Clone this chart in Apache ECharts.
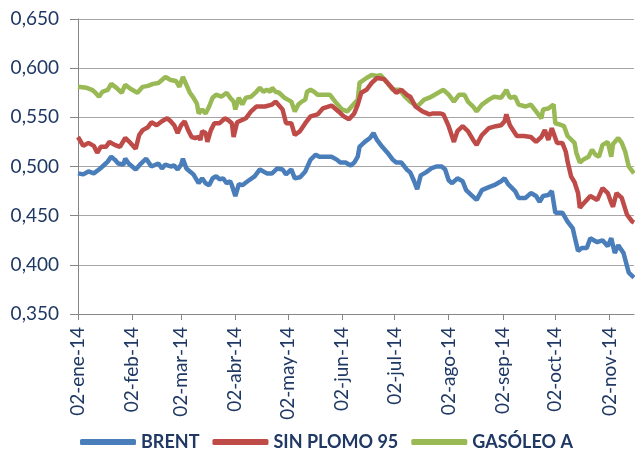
<!DOCTYPE html>
<html>
<head>
<meta charset="utf-8">
<script src="https://cdn.jsdelivr.net/npm/echarts@6/dist/echarts.min.js"></script>
<style>
html,body{margin:0;padding:0;background:#fff;}
#chart{width:635px;height:449px;}
</style>
</head>
<body>
<div id="chart"></div>
<script>
// Day offsets are counted from 02-ene-2014
const startYear = 2014, startMonth = 0, startDay = 2;
const lastDay = 318;

const seriesNames = ['BRENT', 'SIN PLOMO 95', 'GASÓLEO A'];
const monthAbbr = ['ene','feb','mar','abr','may','jun','jul','ago','sep','oct','nov','dic'];
const yTicks = [0.35, 0.40, 0.45, 0.50, 0.55, 0.60, 0.65];

const brentDay = [0,3,6,9,12,14,17,19,21,23,26,27,29,33,36,39,42,46,48,50,53,55,57,59,60,62,64,66,67,69,71,73,75,77,79,81,83,85,87,88,90,92,94,97,101,104,108,111,114,117,119,122,124,127,130,133,136,138,142,145,148,150,153,156,158,160,161,164,167,169,171,174,177,180,182,185,188,190,192,194,196,199,200,202,205,208,210,212,214,217,220,222,225,228,231,235,238,242,244,246,247,250,252,256,259,262,264,266,269,271,273,277,280,283,284,286,288,291,293,297,300,303,305,307,309,312,315,318];
const brentVal = [0.493,0.492,0.495,0.493,0.497,0.500,0.505,0.510,0.507,0.503,0.502,0.508,0.503,0.497,0.503,0.508,0.500,0.503,0.498,0.502,0.500,0.501,0.497,0.502,0.508,0.498,0.495,0.492,0.490,0.483,0.488,0.483,0.481,0.488,0.490,0.487,0.488,0.483,0.485,0.481,0.470,0.482,0.481,0.485,0.490,0.497,0.493,0.493,0.498,0.497,0.492,0.497,0.488,0.489,0.495,0.507,0.512,0.510,0.510,0.510,0.507,0.504,0.504,0.501,0.504,0.510,0.520,0.525,0.529,0.534,0.527,0.520,0.514,0.507,0.504,0.504,0.497,0.494,0.486,0.477,0.491,0.494,0.492,0.498,0.500,0.500,0.497,0.486,0.483,0.488,0.485,0.476,0.471,0.466,0.476,0.479,0.481,0.485,0.488,0.482,0.480,0.475,0.468,0.468,0.473,0.470,0.464,0.470,0.471,0.475,0.453,0.453,0.444,0.437,0.429,0.414,0.417,0.417,0.427,0.423,0.425,0.419,0.427,0.412,0.420,0.412,0.392,0.387];

const sinPlomoDay = [0,3,6,9,11,13,16,18,21,24,27,30,33,35,37,40,42,45,48,51,53,55,57,59,61,63,65,67,69,70,71,73,74,76,78,81,84,86,88,89,91,96,99,102,107,111,113,117,119,122,124,127,130,133,137,140,145,149,152,155,158,160,162,165,168,171,175,179,182,185,188,190,193,197,201,203,207,209,212,215,217,220,223,226,228,231,235,239,242,244,245,247,251,255,259,262,265,267,269,271,274,277,279,280,282,284,286,287,289,291,293,297,300,303,305,306,308,311,314,317,318];
const sinPlomoVal = [0.530,0.521,0.524,0.521,0.514,0.520,0.520,0.525,0.522,0.520,0.529,0.524,0.518,0.532,0.537,0.540,0.545,0.542,0.546,0.549,0.546,0.542,0.534,0.542,0.546,0.537,0.530,0.529,0.530,0.527,0.536,0.534,0.525,0.537,0.544,0.544,0.549,0.547,0.544,0.530,0.545,0.549,0.556,0.561,0.561,0.563,0.566,0.558,0.544,0.544,0.532,0.536,0.544,0.551,0.553,0.559,0.562,0.556,0.551,0.548,0.554,0.563,0.575,0.578,0.585,0.590,0.589,0.581,0.575,0.578,0.573,0.571,0.561,0.556,0.553,0.554,0.554,0.553,0.541,0.525,0.536,0.541,0.536,0.527,0.522,0.532,0.539,0.541,0.542,0.546,0.553,0.542,0.531,0.531,0.530,0.525,0.530,0.537,0.527,0.539,0.524,0.524,0.515,0.505,0.490,0.484,0.473,0.458,0.462,0.466,0.470,0.466,0.478,0.473,0.463,0.459,0.473,0.468,0.451,0.444,0.443];

const gasoleoDay = [0,5,8,10,12,14,17,19,22,25,27,30,34,37,40,43,46,48,50,53,56,58,60,62,64,66,68,69,71,73,75,77,79,82,85,87,89,90,92,94,96,99,102,104,106,108,110,111,113,115,118,120,122,124,126,128,130,131,133,135,137,139,144,148,151,154,158,160,161,165,168,171,173,177,180,184,187,190,194,198,201,204,209,212,215,218,221,223,226,228,231,235,238,242,244,245,247,250,252,256,259,262,265,266,269,272,273,275,278,280,284,285,287,289,292,294,296,298,300,303,305,306,309,311,313,315,318];
const gasoleoVal = [0.581,0.580,0.578,0.575,0.571,0.576,0.578,0.584,0.580,0.575,0.583,0.579,0.575,0.581,0.582,0.584,0.585,0.588,0.591,0.588,0.587,0.581,0.591,0.583,0.575,0.570,0.564,0.554,0.558,0.554,0.561,0.570,0.573,0.571,0.575,0.570,0.566,0.558,0.570,0.563,0.570,0.571,0.576,0.580,0.576,0.578,0.576,0.580,0.576,0.575,0.570,0.568,0.566,0.556,0.563,0.566,0.568,0.576,0.578,0.576,0.573,0.573,0.573,0.564,0.558,0.556,0.564,0.568,0.585,0.590,0.593,0.592,0.593,0.585,0.578,0.578,0.571,0.566,0.561,0.568,0.570,0.573,0.578,0.573,0.566,0.573,0.573,0.566,0.561,0.556,0.563,0.568,0.571,0.570,0.575,0.578,0.570,0.571,0.563,0.561,0.563,0.556,0.549,0.558,0.559,0.563,0.544,0.543,0.541,0.531,0.524,0.514,0.504,0.507,0.510,0.517,0.512,0.510,0.522,0.525,0.510,0.523,0.529,0.524,0.515,0.500,0.493];

const colors = ['#4A7EBB', '#BE4B48', '#98B954'];
const textColor = '#1F3864';
const fontFamily = 'Lato, "Liberation Sans", sans-serif';

// one category per calendar day, labelled like 02-ene-14
const dayLabels = [];
for (let d = 0; d <= lastDay; d++) {
  const dt = new Date(startYear, startMonth, startDay + d);
  dayLabels.push(String(dt.getDate()).padStart(2, '0') + '-' + monthAbbr[dt.getMonth()] + '-' + String(dt.getFullYear()).slice(2));
}
const isMonthTick = (idx, val) => typeof val === 'string' ? val.indexOf('02-') === 0 : dayLabels[idx] && dayLabels[idx].indexOf('02-') === 0;

function pairs(days, vals) { return days.map((d, i) => [d, vals[i]]); }

const chart = echarts.init(document.getElementById('chart'), null, {renderer: 'canvas'});
chart.setOption({
  animation: false,
  backgroundColor: '#ffffff',
  color: colors,
  grid: {left: 78, right: 1, top: 19, bottom: 135, containLabel: false},
  legend: {
    top: 433,
    left: 80,
    padding: 0,
    itemWidth: 56,
    itemHeight: 6,
    itemGap: 13,
    icon: 'roundRect',
    textStyle: {color: textColor, fontWeight: 'bold', fontSize: 18, fontFamily: fontFamily},
    data: seriesNames
  },
  xAxis: {
    type: 'category',
    data: dayLabels,
    boundaryGap: false,
    axisLine: {show: true, lineStyle: {color: '#868686', width: 1}},
    axisTick: {show: true, length: 6, lineStyle: {color: '#868686'}, interval: isMonthTick},
    splitLine: {show: false},
    axisLabel: {
      interval: isMonthTick,
      rotate: 90,
      margin: 13,
      color: textColor,
      fontSize: 19,
      fontFamily: fontFamily
    }
  },
  yAxis: {
    type: 'value',
    min: yTicks[0],
    max: yTicks[yTicks.length - 1],
    interval: 0.05,
    axisLine: {show: true, lineStyle: {color: '#868686', width: 1}},
    axisTick: {show: true, length: 8, lineStyle: {color: '#868686'}},
    splitLine: {show: true, lineStyle: {color: '#A6A6A6', width: 1}},
    axisLabel: {
      margin: 19,
      color: textColor,
      fontSize: 19,
      fontFamily: fontFamily,
      formatter: v => v.toFixed(3).replace('.', ',')
    }
  },
  series: [
    {name: seriesNames[0], type: 'line', data: pairs(brentDay, brentVal), showSymbol: false, lineStyle: {width: 4.5, color: colors[0]}, z: 3},
    {name: seriesNames[1], type: 'line', data: pairs(sinPlomoDay, sinPlomoVal), showSymbol: false, lineStyle: {width: 4.5, color: colors[1]}, z: 4},
    {name: seriesNames[2], type: 'line', data: pairs(gasoleoDay, gasoleoVal), showSymbol: false, lineStyle: {width: 4.5, color: colors[2]}, z: 2}
  ]
});
</script>
</body>
</html>
